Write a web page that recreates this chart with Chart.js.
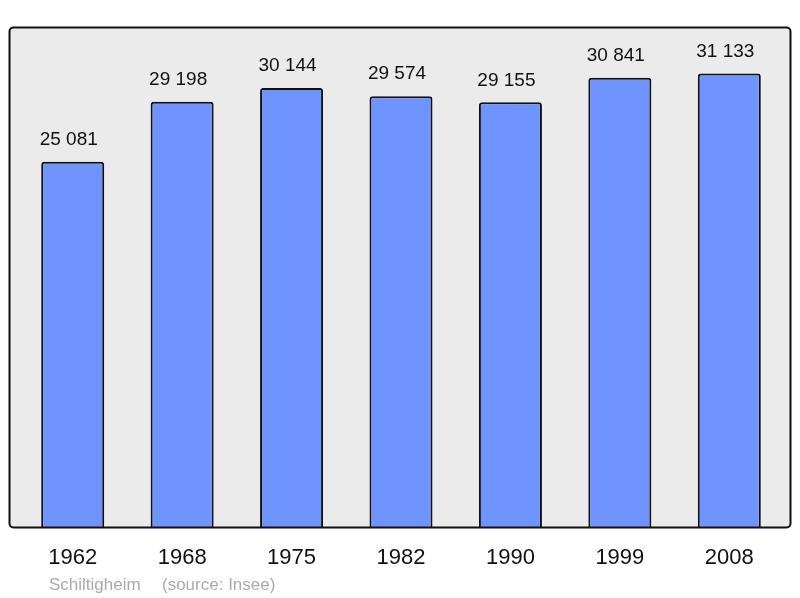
<!DOCTYPE html>
<html>
<head>
<meta charset="utf-8">
<script src="https://cdn.jsdelivr.net/npm/chart.js@4.4.0/dist/chart.umd.min.js"></script>
<style>
  html, body { margin: 0; padding: 0; background: #fff; }
  #wrap { width: 800px; height: 598px; position: relative; }
</style>
</head>
<body>
<div id="wrap"><canvas id="chart" width="800" height="598"></canvas></div>
<script>
const years = ['1962', '1968', '1975', '1982', '1990', '1999', '2008'];
const population = [25081, 29198, 30144, 29574, 29155, 30841, 31133];
const town = 'Schiltigheim';
const source = '(source: Insee)';

const FONT = '"Liberation Sans", Arial, sans-serif';

// grey rounded frame behind the bars
const framePlugin = {
  id: 'frame',
  beforeDraw(chart) {
    const ctx = chart.ctx;
    ctx.save();
    ctx.beginPath();
    ctx.roundRect(9.5, 27.5, 781, 500, 4);
    ctx.fillStyle = '#ebebeb';
    ctx.fill();
    ctx.restore();
  },
  afterDatasetsDraw(chart) {
    const ctx = chart.ctx;
    ctx.save();
    ctx.beginPath();
    ctx.roundRect(9.5, 27.5, 781, 500, 4);
    ctx.lineWidth = 2;
    ctx.strokeStyle = '#111';
    ctx.stroke();

    // values over each bar
    const meta = chart.getDatasetMeta(0);
    ctx.font = '19px ' + FONT;
    ctx.fillStyle = '#111';
    ctx.textAlign = 'center';
    ctx.textBaseline = 'middle';
    meta.data.forEach((bar, i) => {
      const v = population[i].toString().replace(/\B(?=(\d{3})+(?!\d))/g, ' ');
      ctx.fillText(v, bar.x - 4, bar.y - 22);
    });

    // footer
    ctx.font = '17px ' + FONT;
    ctx.fillStyle = '#aaaaaa';
    ctx.textAlign = 'left';
    ctx.fillText(town, 49, 585);
    ctx.fillText(source, 162, 585);
    ctx.restore();
  }
};

new Chart(document.getElementById('chart'), {
  type: 'bar',
  data: {
    labels: years,
    datasets: [{
      data: population,
      backgroundColor: '#7094ff',
      borderColor: '#111',
      borderWidth: 2,
      borderRadius: 3,
      borderSkipped: 'bottom',
      barPercentage: 0.576,
      categoryPercentage: 1
    }]
  },
  options: {
    responsive: false,
    animation: false,
    devicePixelRatio: 1,
    layout: { padding: { left: 18, right: 16, top: 28, bottom: 0 } },
    plugins: { legend: { display: false }, tooltip: { enabled: false } },
    scales: {
      x: {
        grid: { display: false, drawTicks: false },
        border: { display: false },
        ticks: { color: '#111', font: { family: FONT, size: 22 }, padding: 17, maxRotation: 0, autoSkip: false },
        afterFit(s) { s.height = 70; }
      },
      y: {
        display: false,
        min: 0,
        max: 34246
      }
    }
  },
  plugins: [framePlugin]
});
</script>
</body>
</html>
